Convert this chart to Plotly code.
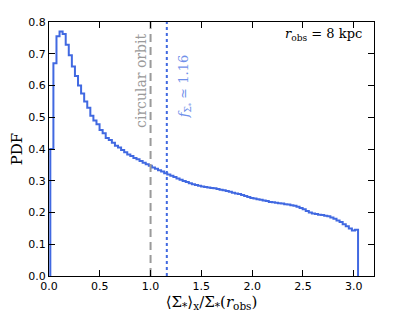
import plotly.graph_objects as go

# Histogram bins (edges start / width) and PDF values
bin_start = 0.013
bin_width = 0.0303
pdf_values = [
    0.40, 0.67, 0.755, 0.77, 0.762, 0.728, 0.695, 0.66, 0.63, 0.60,
    0.575, 0.55, 0.53, 0.505, 0.49, 0.478, 0.46, 0.45, 0.435, 0.428,
    0.42, 0.41, 0.405, 0.397, 0.39, 0.383, 0.378, 0.372, 0.368, 0.362,
    0.357, 0.352, 0.347, 0.342, 0.338, 0.333, 0.329, 0.324, 0.32, 0.316,
    0.312, 0.307, 0.303, 0.299, 0.296, 0.292, 0.289, 0.287, 0.284, 0.282,
    0.28, 0.279, 0.277, 0.276, 0.274, 0.272, 0.27, 0.268, 0.265, 0.262,
    0.26, 0.258, 0.255, 0.252, 0.249, 0.246, 0.244, 0.242, 0.24, 0.238,
    0.236, 0.233, 0.232, 0.231, 0.229, 0.228, 0.226, 0.225, 0.223, 0.221,
    0.218, 0.214, 0.21, 0.205, 0.20, 0.197, 0.195, 0.193, 0.192, 0.19,
    0.188, 0.184, 0.18, 0.175, 0.17, 0.163, 0.157, 0.15, 0.143, 0.146,
]
circular_orbit = 1.0
f_sigma = 1.16
x_ticks = [0.0, 0.5, 1.0, 1.5, 2.0, 2.5, 3.0]
y_ticks = [0.0, 0.1, 0.2, 0.3, 0.4, 0.5, 0.6, 0.7, 0.8]

n = len(pdf_values)
edges = [bin_start + bin_width * i for i in range(n + 1)]
xs = [edges[0]] + edges[:n] + [edges[n], edges[n]]
ys = [0] + pdf_values + [pdf_values[-1], 0]

BLUE = "#4169E1"
serif = "DejaVu Serif, Liberation Serif, serif"
sans = "DejaVu Sans, sans-serif"

fig = go.Figure()
fig.add_trace(go.Scatter(x=xs, y=ys, mode="lines", line=dict(color=BLUE, width=2, shape="hv"),
                         showlegend=False, hoverinfo="skip"))
fig.add_trace(go.Scatter(x=[circular_orbit, circular_orbit], y=[0, 0.8], mode="lines",
                         line=dict(color="#9a9a9a", width=2, dash="8px,5px"), showlegend=False))
fig.add_trace(go.Scatter(x=[f_sigma, f_sigma], y=[0, 0.8], mode="lines",
                         line=dict(color=BLUE, width=2, dash="3px,3px"), showlegend=False))

fig.add_annotation(x=0.9, y=0.77, xref="x", yref="y", text="circular orbit", textangle=-90,
                   showarrow=False, xanchor="center", yanchor="top",
                   font=dict(family=serif, size=14, color="#9a9a9a"))
fig.add_annotation(x=1.34, y=0.705, xref="x", yref="y",
                   text="<i>f</i><sub>Σ<sub>*</sub></sub> ≃ 1.16", textangle=-90,
                   showarrow=False, xanchor="center", yanchor="top",
                   font=dict(family=serif, size=13, color="#7090ea"))
fig.add_annotation(x=3.1, y=0.762, xref="x", yref="y",
                   text="<i>r</i><sub>obs</sub> = 8 kpc",
                   showarrow=False, xanchor="right", yanchor="middle",
                   font=dict(family=serif, size=13, color="black"))

axis_common = dict(showgrid=False, zeroline=False, showline=True, linecolor="black", linewidth=1.3,
                   mirror="allticks", ticks="inside", ticklen=6, tickwidth=1.2, tickcolor="black",
                   automargin=False,
                   tickfont=dict(family=sans, size=11, color="black"))
fig.update_xaxes(range=[0, 3.2], tickvals=x_ticks, ticktext=[f"{v:.1f}" for v in x_ticks],
                 title=dict(text="⟨Σ<sub>*</sub>⟩<sub>x</sub>/Σ<sub>*</sub>(<i>r</i><sub>obs</sub>)",
                            font=dict(family=serif, size=15, color="black"), standoff=4),
                 **axis_common)
fig.update_yaxes(range=[0, 0.8], tickvals=y_ticks, ticktext=[f"{v:.1f}" for v in y_ticks],
                 title=dict(text="PDF", font=dict(family=serif, size=15, color="black"), standoff=6),
                 **axis_common)
# page body has an 8px margin, so the figure is sized/offset to compensate
fig.update_layout(width=399, height=309, margin=dict(l=41, r=33, t=14, b=41),
                  plot_bgcolor="white", paper_bgcolor="white")
fig.write_html("out.html")
